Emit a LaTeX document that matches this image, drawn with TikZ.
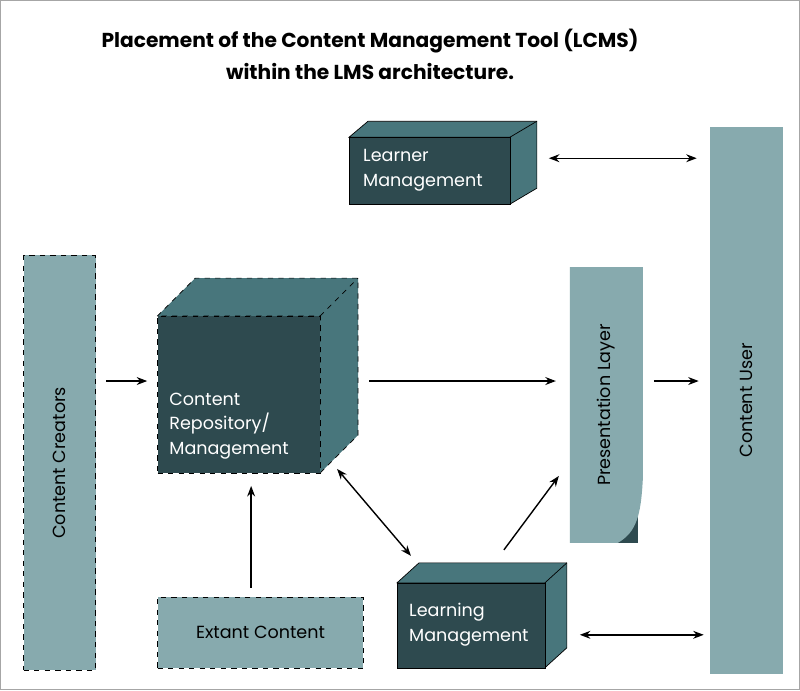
\documentclass[tikz,border=0pt]{standalone}
\usepackage{fontspec}
\setmainfont{Poppins}
\usetikzlibrary{arrows.meta,positioning}
\definecolor{darkteal}{HTML}{2E4A4F}
\definecolor{midteal}{HTML}{48767C}
\definecolor{lightteal}{HTML}{87AAAE}
\begin{document}
\begin{tikzpicture}[x=0.02cm,y=-0.02cm,
    front/.style={draw=black, fill=darkteal, text=white, align=left, font=\fontsize{10}{14}\selectfont},
    side/.style={draw=black, fill=midteal},
    pale/.style={draw=black, fill=lightteal, font=\fontsize{10}{14}\selectfont},
    dep/.style={-{Stealth[length=6pt]}, thick},
    bidep/.style={{Stealth[length=6pt]}-{Stealth[length=6pt]}, thick}
]
    % frame and title
    \draw[gray!70, fill=white] (0,0) rectangle (800,690);
    \node[font=\fontsize{11.5}{18}\selectfont\bfseries, align=center] (title) at (370,54)
        {Placement of the Content Management Tool (LCMS)\\within the LMS architecture.};

    % Learner Management
    \draw[side] (349,137) -- (368,121) -- (537,121) -- (537,188) -- (510,204) -- (510,137) -- cycle;
    \draw[side] (510,137) -- (537,121);
    \node[front, minimum width=161*0.02cm, minimum height=67*0.02cm, anchor=north west, inner sep=0pt] (learner) at (349,137) {};
    \node[text=white, anchor=west, align=left, font=\fontsize{10}{14}\selectfont] (learnertxt) at (357,170) {Learner\\Management};

    % Content User
    \node[pale, draw=none, minimum width=73*0.02cm, minimum height=548*0.02cm, anchor=north west, inner sep=0pt] (user) at (710,126) {};
    \node[rotate=90, font=\fontsize{10}{14}\selectfont] (usertxt) at (user.center) {Content User};

    % Content Creators
    \node[pale, dashed, minimum width=72*0.02cm, minimum height=415*0.02cm, anchor=north west, inner sep=0pt] (creators) at (23,255) {};
    \node[rotate=90, font=\fontsize{10}{14}\selectfont] (creatorstxt) at (creators.center) {Content Creators};

    % Content Repository cube
    \draw[side, dashed] (157,316) -- (195,278) -- (358,278) -- (358,435) -- (320,473) -- (320,316) -- cycle;
    \draw[dashed] (320,316) -- (358,278);
    \node[front, dashed, minimum width=163*0.02cm, minimum height=157*0.02cm, anchor=north west, inner sep=0pt] (repo) at (157,316) {};
    \node[text=white, anchor=west, align=left, font=\fontsize{10}{14}\selectfont] (repotxt) at (163,426) {Content\\Repository/\\Management};

    % Presentation Layer
    \fill[darkteal] (615,540) .. controls (630,535) and (636,525) .. (638,505) -- (638,543) -- (600,543) -- cycle;
    \fill[lightteal] (570,267) -- (643,267) -- (643,480) .. controls (641,515) and (637,532) .. (618,543) -- (570,543) -- cycle;
    \coordinate (pres) at (606,405);
    \node[rotate=90, font=\fontsize{10}{14}\selectfont] (prestxt) at (pres) {Presentation Layer};

    % Extant Content
    \node[pale, dashed, minimum width=206*0.02cm, minimum height=71*0.02cm, anchor=north west, inner sep=0pt] (extant) at (157,597) {};
    \node[font=\fontsize{10}{14}\selectfont] (extanttxt) at (extant.center) {Extant Content};

    % Learning Management
    \draw[side] (397,583) -- (419,563) -- (567,563) -- (567,648) -- (545,668) -- (545,583) -- cycle;
    \draw[side] (545,583) -- (567,563);
    \node[front, minimum width=148*0.02cm, minimum height=85*0.02cm, anchor=north west, inner sep=0pt] (learning) at (397,583) {};
    \node[text=white, anchor=west, align=left, font=\fontsize{10}{14}\selectfont] (learningtxt) at (403,625) {Learning\\Management};

    % connector ends
    \coordinate (a1) at (549,158); \coordinate (a2) at (697,158);
    \coordinate (b1) at (106,381); \coordinate (b2) at (147,381);
    \coordinate (c1) at (369,381); \coordinate (c2) at (556,381);
    \coordinate (d1) at (654,381); \coordinate (d2) at (699,381);
    \coordinate (e1) at (337,469); \coordinate (e2) at (411,556);
    \coordinate (f1) at (251,588); \coordinate (f2) at (251,486);
    \coordinate (g1) at (504,550); \coordinate (g2) at (559,476);
    \coordinate (h1) at (580,635); \coordinate (h2) at (704,635);

    % Dependencies
    \draw[bidep] (a1) -- (a2);
    \draw[dep] (b1) -- (b2);
    \draw[dep] (c1) -- (c2);
    \draw[dep] (d1) -- (d2);
    \draw[bidep] (e1) -- (e2);
    \draw[dep] (f1) -- (f2);
    \draw[dep] (g1) -- (g2);
    \draw[bidep] (h1) -- (h2);
\end{tikzpicture}
\end{document}
